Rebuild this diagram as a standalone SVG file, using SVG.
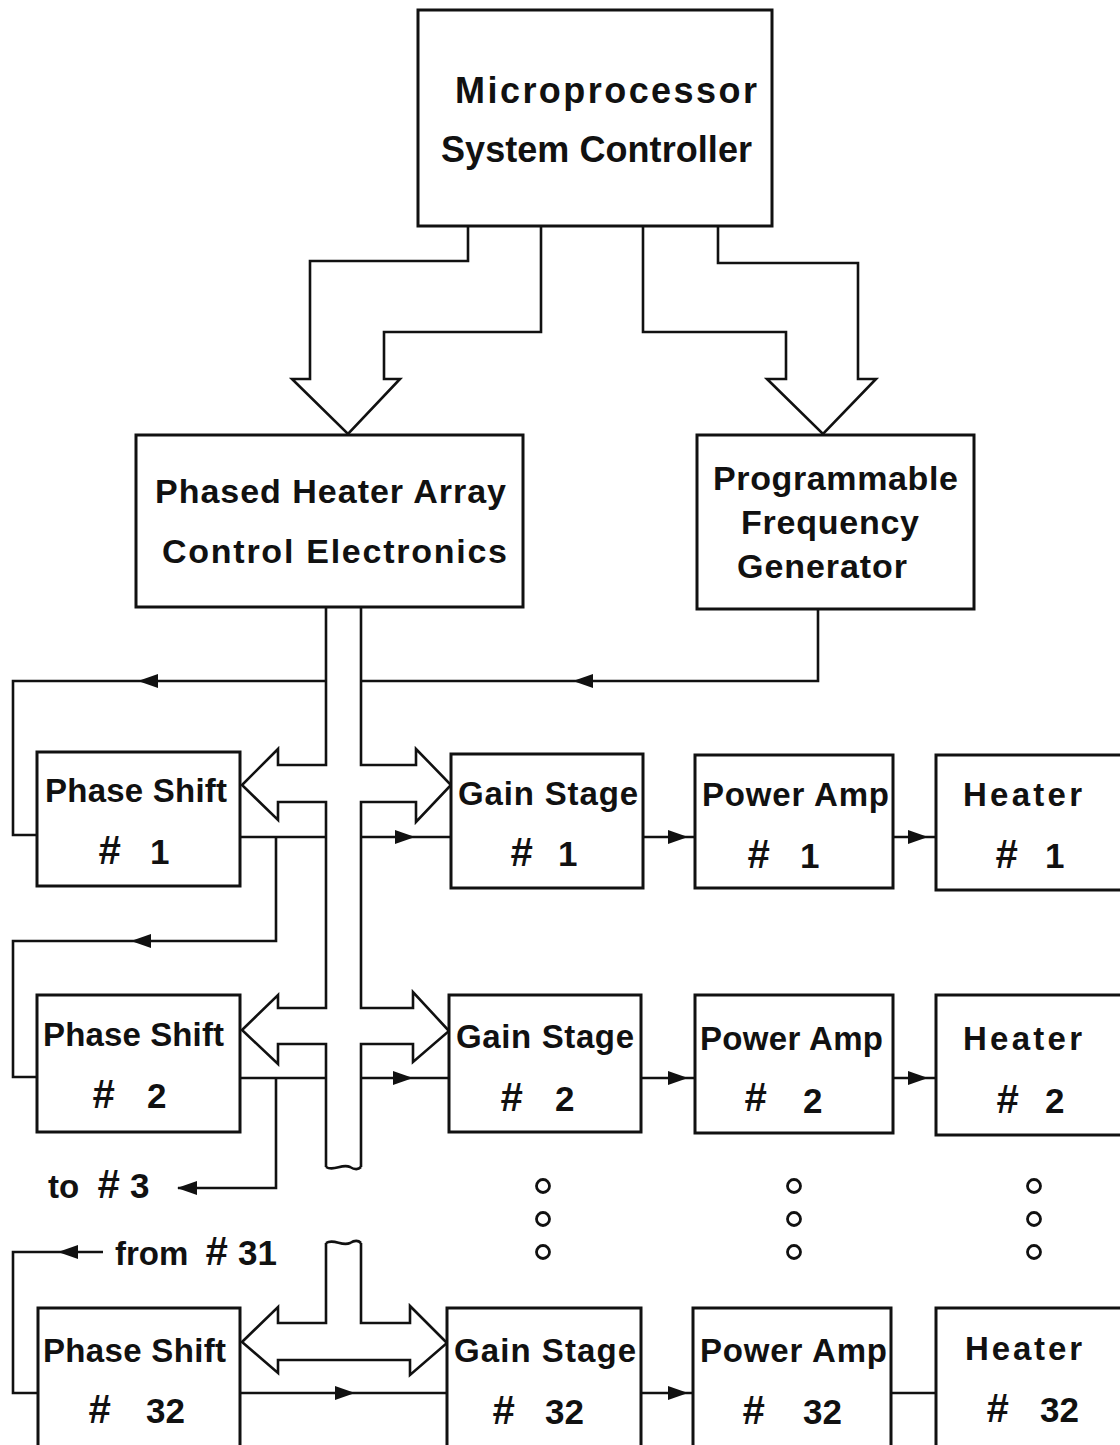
<svg xmlns="http://www.w3.org/2000/svg" width="1120" height="1445" viewBox="0 0 1120 1445">
<style>
.box{fill:#fff;stroke:#111;stroke-width:3}
.ln{fill:none;stroke:#111;stroke-width:2.6;stroke-linejoin:miter}
.t{font-family:"Liberation Sans",Arial,sans-serif;font-weight:bold;font-size:33px;fill:#111}
.big{font-size:36px}
.mid{font-size:34px}
.h{font-size:40px;font-style:italic}
.n{font-size:35px}
.dot{fill:#fff;stroke:#111;stroke-width:2.8}
</style>
<defs>
<path id="aR" d="M0,0 L-20,-7 L-20,7 Z" fill="#111"/>
<path id="aL" d="M0,0 L20,-7 L20,7 Z" fill="#111"/>
</defs>
<rect width="1120" height="1445" fill="#fff"/>

<g id="connectors">
<path class="ln" d="M468,226 V261 H310 V379 H292 L348,434 L400,379 H384 V332 H541 V226"/>
<path class="ln" d="M643,226 V332 H786 V379 H767 L823,434 L876,379 H858 V263 H718 V226"/>
<path class="ln" d="M326,607 V765 H278 V749 L242,785 L278,820 V802 H326 V1008 H278 V995 L242,1030 L278,1064 V1044 H326 V1167"/>
<path class="ln" d="M361,607 V765 H416 V749 L451,785 L416,822 V802 H361 V1008 H413 V992 L449,1031 L413,1062 V1044 H361 V1167"/>
<path class="ln" d="M326,1167 C334,1172 342,1163 350,1167 C355,1170 358,1170 361,1167"/>
<path class="ln" d="M326,1243 C334,1238 342,1247 350,1243 C355,1240 358,1240 361,1243"/>
<path class="ln" d="M326,1243 V1323 H278 V1307 L242,1342 L278,1373 V1360 H410 V1375 L447,1343 L410,1306 V1323 H361 V1243"/>
<path class="ln" d="M818,609 V681 H361"/>
<path class="ln" d="M326,681 H13 V835 H37"/>
<use href="#aL" x="138" y="681"/>
<use href="#aL" x="573" y="681"/>
<path class="ln" d="M240,837 H326"/>
<path class="ln" d="M361,837 H451"/>
<use href="#aR" x="415" y="837"/>
<path class="ln" d="M276,837 V941 H13 V1077 H37"/>
<use href="#aL" x="131" y="941"/>
<path class="ln" d="M643,837 H695"/>
<use href="#aR" x="688" y="837"/>
<path class="ln" d="M893,837 H936"/>
<use href="#aR" x="928" y="837"/>
<path class="ln" d="M240,1078 H326"/>
<path class="ln" d="M361,1078 H449"/>
<use href="#aR" x="413" y="1078"/>
<path class="ln" d="M276,1078 V1188 H178"/>
<use href="#aL" x="177" y="1188"/>
<path class="ln" d="M641,1078 H695"/>
<use href="#aR" x="688" y="1078"/>
<path class="ln" d="M893,1078 H936"/>
<use href="#aR" x="928" y="1078"/>
<path class="ln" d="M103,1252 H13 V1393 H37"/>
<use href="#aL" x="58" y="1252"/>
<path class="ln" d="M240,1393 H447"/>
<use href="#aR" x="355" y="1393"/>
<path class="ln" d="M641,1393 H693"/>
<use href="#aR" x="688" y="1393"/>
<path class="ln" d="M891,1393 H936"/>
</g>

<g id="controller">
<rect class="box" x="418" y="10" width="354" height="216"/>
<text class="t big" x="455" y="103" textLength="302">Microprocessor</text>
<text class="t big" x="441" y="162" textLength="311">System Controller</text>
</g>
<g id="phased-heater-array">
<rect class="box" x="136" y="435" width="387" height="172"/>
<text class="t mid" x="155" y="503" textLength="351">Phased Heater Array</text>
<text class="t mid" x="162" y="563" textLength="345">Control  Electronics</text>
</g>
<g id="freq-gen">
<rect class="box" x="697" y="435" width="277" height="174"/>
<text class="t mid" x="713" y="490" textLength="245">Programmable</text>
<text class="t mid" x="741" y="534" textLength="178">Frequency</text>
<text class="t mid" x="737" y="578" textLength="170">Generator</text>
</g>

<g id="phase-shift-1">
<rect class="box" x="37" y="752" width="203" height="134"/>
<text class="t" x="45" y="802" textLength="182">Phase Shift</text>
<text class="t"><tspan class="h" x="98" y="864">#</tspan> <tspan class="n" x="150" y="864">1</tspan></text>
</g>
<g id="gain-stage-1">
<rect class="box" x="451" y="754" width="192" height="134"/>
<text class="t" x="458" y="805" textLength="180">Gain Stage</text>
<text class="t"><tspan class="h" x="510" y="866">#</tspan> <tspan class="n" x="558" y="866">1</tspan></text>
</g>
<g id="power-amp-1">
<rect class="box" x="695" y="755" width="198" height="133"/>
<text class="t" x="702" y="806" textLength="187">Power Amp</text>
<text class="t"><tspan class="h" x="747" y="868">#</tspan> <tspan class="n" x="800" y="868">1</tspan></text>
</g>
<g id="heater-1">
<rect class="box" x="936" y="755" width="200" height="135"/>
<text class="t" x="963" y="806" textLength="119">Heater</text>
<text class="t"><tspan class="h" x="995" y="868">#</tspan> <tspan class="n" x="1045" y="868">1</tspan></text>
</g>

<g id="phase-shift-2">
<rect class="box" x="37" y="995" width="203" height="137"/>
<text class="t" x="43" y="1046" textLength="181">Phase Shift</text>
<text class="t"><tspan class="h" x="92" y="1108">#</tspan> <tspan class="n" x="147" y="1108">2</tspan></text>
</g>
<g id="gain-stage-2">
<rect class="box" x="449" y="995" width="192" height="137"/>
<text class="t" x="456" y="1048" textLength="178">Gain Stage</text>
<text class="t"><tspan class="h" x="500" y="1111">#</tspan> <tspan class="n" x="555" y="1111">2</tspan></text>
</g>
<g id="power-amp-2">
<rect class="box" x="695" y="995" width="198" height="138"/>
<text class="t" x="700" y="1050" textLength="183">Power Amp</text>
<text class="t"><tspan class="h" x="744" y="1111">#</tspan> <tspan class="n" x="803" y="1113">2</tspan></text>
</g>
<g id="heater-2">
<rect class="box" x="936" y="995" width="200" height="140"/>
<text class="t" x="963" y="1050" textLength="119">Heater</text>
<text class="t"><tspan class="h" x="996" y="1113">#</tspan> <tspan class="n" x="1045" y="1113">2</tspan></text>
</g>

<g id="labels">
<text class="t"><tspan x="48" y="1198">to</tspan> <tspan class="h" x="97" y="1198">#</tspan><tspan class="n" x="130" y="1198">3</tspan></text>
<text class="t"><tspan x="115" y="1265">from</tspan> <tspan class="h" x="205" y="1265">#</tspan><tspan class="n" x="238" y="1265">31</tspan></text>
</g>

<g id="dots">
<circle class="dot" cx="543" cy="1186" r="6.5"/>
<circle class="dot" cx="543" cy="1219" r="6.5"/>
<circle class="dot" cx="543" cy="1252" r="6.5"/>
<circle class="dot" cx="794" cy="1186" r="6.5"/>
<circle class="dot" cx="794" cy="1219" r="6.5"/>
<circle class="dot" cx="794" cy="1252" r="6.5"/>
<circle class="dot" cx="1034" cy="1186" r="6.5"/>
<circle class="dot" cx="1034" cy="1219" r="6.5"/>
<circle class="dot" cx="1034" cy="1252" r="6.5"/>
</g>

<g id="phase-shift-32">
<rect class="box" x="38" y="1308" width="202" height="140"/>
<text class="t" x="43" y="1362" textLength="183">Phase Shift</text>
<text class="t"><tspan class="h" x="88" y="1423">#</tspan> <tspan class="n" x="146" y="1423">32</tspan></text>
</g>
<g id="gain-stage-32">
<rect class="box" x="447" y="1308" width="194" height="140"/>
<text class="t" x="454" y="1362" textLength="182">Gain Stage</text>
<text class="t"><tspan class="h" x="492" y="1424">#</tspan> <tspan class="n" x="545" y="1424">32</tspan></text>
</g>
<g id="power-amp-32">
<rect class="box" x="693" y="1308" width="198" height="140"/>
<text class="t" x="700" y="1362" textLength="187">Power Amp</text>
<text class="t"><tspan class="h" x="742" y="1424">#</tspan> <tspan class="n" x="803" y="1424">32</tspan></text>
</g>
<g id="heater-32">
<rect class="box" x="936" y="1308" width="200" height="140"/>
<text class="t" x="965" y="1360" textLength="117">Heater</text>
<text class="t"><tspan class="h" x="986" y="1422">#</tspan> <tspan class="n" x="1040" y="1422">32</tspan></text>
</g>
</svg>
